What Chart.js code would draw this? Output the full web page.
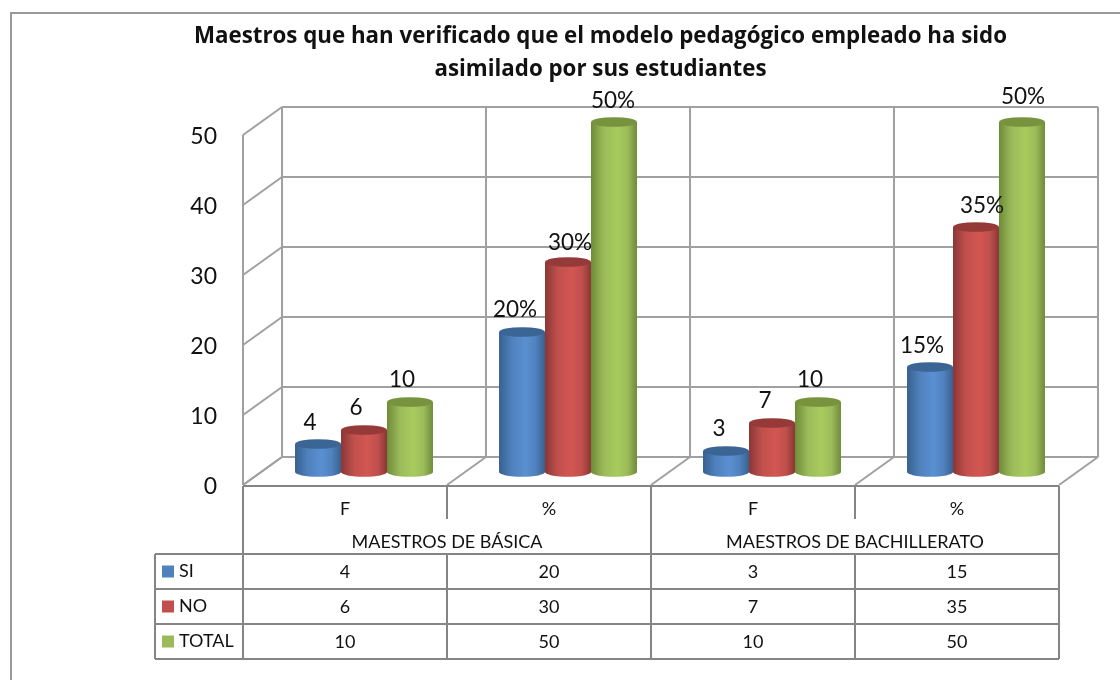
<!DOCTYPE html>
<html><head><meta charset="utf-8">
<style>html,body{margin:0;padding:0;background:#fff}canvas{display:block}</style>
<script src="https://cdn.jsdelivr.net/npm/chart.js@4/dist/chart.umd.min.js"></script>
</head><body><canvas id="c" width="1120" height="680"></canvas>
<script>
const titleLines = ["Maestros que han verificado que el modelo pedagógico empleado ha sido","asimilado por sus estudiantes"];
const categories = ["F","%","F","%"];
const groups = ["MAESTROS DE BÁSICA","MAESTROS DE BACHILLERATO"];
const seriesNames = ["SI","NO","TOTAL"];
const si = [4,20,3,15];
const no = [6,30,7,35];
const total = [10,50,10,50];
const labelsSi = ["4","20%","3","15%"];
const labelsNo = ["6","30%","7","35%"];
const labelsTotal = ["10","50%","10","50%"];
const yTicks = [0,10,20,30,40,50];

const FONT = "Lato, 'Open Sans', sans-serif";
const TITLE_FONT = "'Open Sans', Lato, sans-serif";
const LINE = "#a0a0a0", TLINE = "#858585";
const palette = [
 {main:"#4f81bd", bright:"#5a90d2", dark:"#38618f", cap:"#3b6595"},
 {main:"#c0504d", bright:"#d35652", dark:"#8a3735", cap:"#953a38"},
 {main:"#9bbb59", bright:"#a8cb5e", dark:"#6f8b3a", cap:"#77933e"}
];
const labelNudge = [
 [[-8,-21],[-7,-22],[-7,-22],[-8,-21]],
 [[-8,-22],[2,-19],[-7,-22],[6,-21]],
 [[-8,-22],[-1,-21],[-8,-22],[1,-25]]
];
const seriesLabels = [labelsSi,labelsNo,labelsTotal];
const BACK = {dx:20,dy:-15}, FRONT = {dx:-19,dy:13};
const ROWS = {axis:486,split:519,head:554,r1:589,r2:624,r3:659,left:155};

const scene = {
 id:'scene',
 afterLayout(chart){
  const t = chart.titleBlock; t.left = 190; t.right = 1011; t.width = 821;
 },
 beforeDatasetsDraw(chart){
  const {ctx,scales:{x,y}} = chart;
  const bounds = [0,1,2,3,4].map(i=>x.left + i*x.width/4);
  ctx.save();
  ctx.strokeStyle = LINE; ctx.lineWidth = 2;
  const seg=(a,b,c,d)=>{ctx.beginPath();ctx.moveTo(a,b);ctx.lineTo(c,d);ctx.stroke();};
  const xb=bounds.map(v=>v+BACK.dx), xf=bounds.map(v=>v+FRONT.dx);
  yTicks.forEach(v=>{
    const py=y.getPixelForValue(v);
    seg(xb[0],py+BACK.dy,xb[4],py+BACK.dy);
    seg(xf[0],py+FRONT.dy,xb[0],py+BACK.dy);
  });
  const top=y.getPixelForValue(50), bot=y.getPixelForValue(0);
  xb.forEach(v=>seg(v,top+BACK.dy,v,bot+BACK.dy));
  seg(xf[0],top+FRONT.dy,xf[0],bot+FRONT.dy);
  xf.forEach((v,i)=>seg(v,bot+FRONT.dy,xb[i],bot+BACK.dy));
  ctx.restore();
 },
 afterDatasetsDraw(chart){
  const {ctx} = chart;
  ctx.save();
  chart.data.datasets.forEach((ds,i)=>{
    const c=palette[i];
    chart.getDatasetMeta(i).data.forEach(el=>{
      const {x:cx,y:ty,base,width}=el.getProps(['x','y','base','width'],true);
      const l=cx-width/2,r=cx+width/2,ry=4.8;
      const g=ctx.createLinearGradient(l,0,r,0);
      g.addColorStop(0,c.dark);g.addColorStop(.28,c.main);g.addColorStop(.58,c.bright);g.addColorStop(.8,c.main);g.addColorStop(1,c.dark);
      ctx.fillStyle=g;
      ctx.beginPath();ctx.moveTo(l,ty);ctx.lineTo(l,base);
      ctx.ellipse(cx,base,width/2,ry,0,Math.PI,0,true);
      ctx.lineTo(r,ty);ctx.closePath();ctx.fill();
      ctx.fillStyle=c.cap;
      ctx.beginPath();ctx.ellipse(cx,ty,width/2,ry,0,0,Math.PI*2);ctx.fill();
    });
  });
  ctx.fillStyle="#111";ctx.font="22.5px "+FONT;ctx.textAlign="center";ctx.textBaseline="middle";
  chart.data.datasets.forEach((ds,i)=>{
    chart.getDatasetMeta(i).data.forEach((el,j)=>{
      const p=el.getProps(['x','y'],true), n=labelNudge[i][j];
      ctx.fillText(seriesLabels[i][j],p.x+n[0],p.y+n[1]);
    });
  });
  ctx.restore();
 },
 afterDraw(chart){
  const {ctx,scales:{x}} = chart;
  const xf=[0,1,2,3,4].map(i=>x.left+i*x.width/4+FRONT.dx);
  const R=ROWS;
  ctx.save();
  ctx.strokeStyle=TLINE;ctx.lineWidth=2;
  const seg=(a,b,c,d)=>{ctx.beginPath();ctx.moveTo(a,b);ctx.lineTo(c,d);ctx.stroke();};
  seg(xf[0],R.axis,xf[4],R.axis);
  [R.head,R.r1,R.r2,R.r3].forEach(v=>seg(R.left,v,xf[4],v));
  seg(R.left,R.head,R.left,R.r3);
  seg(xf[0],R.axis,xf[0],R.r3);
  seg(xf[4],R.axis,xf[4],R.r3);
  seg(xf[2],R.axis,xf[2],R.r3);
  [1,3].forEach(i=>{seg(xf[i],R.axis,xf[i],R.split);seg(xf[i],R.head,xf[i],R.r3);});
  ctx.fillStyle="#111";ctx.font="18px "+FONT;ctx.textAlign="center";ctx.textBaseline="middle";
  ctx.fillText(groups[0],(xf[0]+xf[2])/2,542);
  ctx.fillText(groups[1],(xf[2]+xf[4])/2,542);
  const rowY=[572.5,607.5,642.5];
  chart.data.datasets.forEach((ds,i)=>{
    ds.data.forEach((v,j)=>ctx.fillText(String(v),(xf[j]+xf[j+1])/2,rowY[i]));
  });
  ctx.textAlign="left";
  seriesNames.forEach((n,i)=>{
    ctx.fillStyle=palette[i].main;ctx.fillRect(162,rowY[i]-7,12,12);
    ctx.fillStyle="#111";ctx.fillText(n,179,rowY[i]-1);
  });
  ctx.strokeStyle="#9a9a9a";ctx.lineWidth=2;
  ctx.strokeRect(11,13,1130,700);
  ctx.restore();
 }
};

new Chart(document.getElementById('c'),{
 type:'bar',
 data:{labels:categories,datasets:[
  {label:seriesNames[0],data:si,backgroundColor:palette[0].main},
  {label:seriesNames[1],data:no,backgroundColor:palette[1].main},
  {label:seriesNames[2],data:total,backgroundColor:palette[2].main}
 ]},
 plugins:[scene],
 options:{
  responsive:false,animation:false,devicePixelRatio:1,
  layout:{padding:{top:20,left:0,right:42,bottom:0}},
  datasets:{bar:{barPercentage:1,categoryPercentage:0.676}},
  plugins:{
   legend:{display:false},tooltip:{enabled:false},
   title:{display:true,text:titleLines,color:"#111",font:{family:TITLE_FONT,size:22.3,weight:'bold',lineHeight:1.48},padding:{top:0,bottom:36}}
  },
  scales:{
   x:{grid:{display:false},border:{display:false},
      afterFit(s){s.height=208;},
      ticks:{color:"#111",font:{family:FONT,size:18},padding:18,labelOffset:-19,autoSkip:false,maxRotation:0}},
   y:{min:0,max:50,grid:{display:false},border:{display:false},
      afterFit(s){s.width=262;},
      afterBuildTicks(s){s.ticks=yTicks.map(v=>({value:v}));},
      ticks:{color:"#111",font:{family:FONT,size:23},padding:37,labelOffset:15}}
  }
 }
});
</script></body></html>
